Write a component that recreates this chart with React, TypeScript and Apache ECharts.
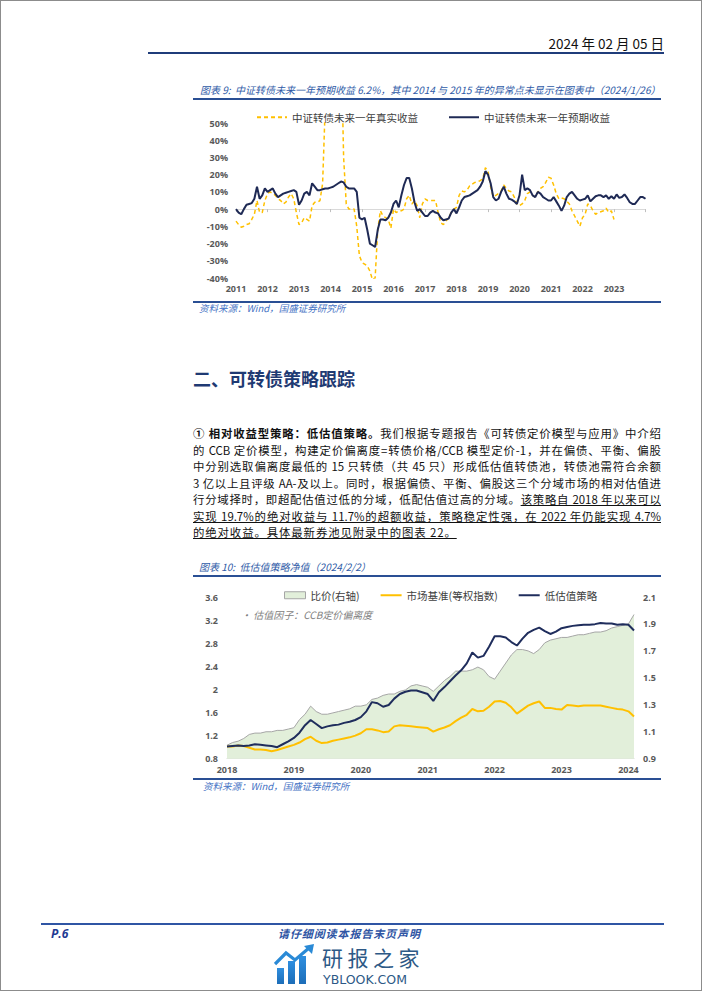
import React, { useEffect, useRef } from "react";
import * as echarts from "echarts";

const CJK = '"Noto Sans CJK SC", "Noto Sans", sans-serif';
const NUM = '"Open Sans", "Noto Sans", sans-serif';

// ---------- Chart 1: monthly, 2011-01 .. 2024-01 ----------
const months1: string[] = [];
for (let y = 2011; y <= 2023; y++) for (let m = 1; m <= 12; m++) months1.push(`${y}-${m < 10 ? "0" + m : m}`);
months1.push("2024-01");

const expectedReturn: number[] = [
  0, -2, -3, 0, 2.5, 3, 3.5, 6, 13, 6, 8, 12,
  10, 11, 12, 9, 7, 8, 9, 9.5, 10, 10.5, 11, 10,
  2.5, 5, 9, 10, 8, 15, 13, 11, 11, 11.5, 12, 12,
  12.5, 13, 14, 15, 16, 15.5, 13, 12, 12, 12, 10, -5,
  -6, -5, -12, -20, -21, -22, -12, -6, -6, -6.5, -5, -2,
  3, 5, 1, 8, 14, 18, 18, 12, 4, -1, 0, -2,
  -4, -4, -2, -1, -2, -2.5, -5, -6.5, -6, -5.5, -2, 0,
  -2.5, 1, 5, 7, 7.5, 8, 9, 10, 11, 13, 16, 22,
  20, 15, 7, 5, 6, 10, 13, 9, 6, 5.5, 4.5, 3,
  8, 20, 11, 12, 11, 8, 7, 10, 9, 7, 6, 5,
  5, 7, 4.5, 2, -1, 2, 7, 9, 10, 8, 6, 5,
  5.5, 6, 8, 4.5, 6, 7.5, 8, 8, 7, 8, 6, 7.5,
  6, 8.5, 6.5, 7, 8.5, 6.5, 4, 3, 3, 5, 7, 7,
  6,
];

const realizedReturn: (number | null)[] = [
  -7, -9, -10.5, -10, -9, -8.5, -6, -3, 5, -2, -2, 5,
  9, 10, 9, 8, 6, 5, 3, 4, 7, 9, 6, -2,
  -9, -8, -5, -6, -7, 2, 4, 4, 5, 15, 60, 85,
  95, 110, 120, 110, 100, 30, 3, 0, 0, 0, -10, -27,
  -31, -32, -33, -36, -41, -40, -12, -1, -4, -5, -6, -11,
  0, -2, -1, -1, 0, 6, 8, 3, 5, 2, -5, 3,
  6, 5, 5, 5, 5, -2, -8, -9, -7, -5, -2, 0,
  1, 8, 10.5, 10, 11, 13.5, 14.5, 15.5, 16, 16.5, 17.5, 24,
  22, 13, 7, 8, 9, 10.5, 14, 12, 10.5, 10, 7, 3,
  2, 3, 5, 9, 10, 8, 7, 10, 12, 13, 15.5, 18.5,
  18, 14, 9, 6, 6.5, 6, 4.5, 3, -1, -4, -7, -10,
  -5, -3, 3, 2, -1, -3, -2, -1.5, -1, 0.5, -2, -1,
  -6, null, null, null, null, null, null, null, null, null, null, null,
  null,
];

// ---------- Chart 2: monthly, 2018-01 .. 2024-02 ----------
const months2: string[] = [];
for (let y = 2018; y <= 2023; y++) for (let m = 1; m <= 12; m++) months2.push(`${y}-${m < 10 ? "0" + m : m}`);
months2.push("2024-01", "2024-02");

const strategyNav: number[] = [
  1.01, 1.02, 1.03, 1.02, 1.03, 1.05, 1.04, 1.03, 1.02, 1.0, 1.05, 1.1,
  1.16, 1.25, 1.38, 1.47, 1.4, 1.33, 1.36, 1.38, 1.39, 1.42, 1.44, 1.47,
  1.52, 1.62, 1.78, 1.76, 1.7, 1.73, 1.84, 1.92, 1.96, 1.98, 1.98, 1.95,
  1.92, 1.8, 1.95, 2.04, 2.14, 2.24, 2.33, 2.45, 2.64, 2.55, 2.58, 2.74,
  2.92, 2.92, 2.9, 2.82, 2.76, 2.88, 2.98, 3.03, 3.07, 3.01, 2.96, 3.0,
  3.06, 3.08, 3.1, 3.11, 3.12, 3.12, 3.13, 3.15, 3.14, 3.14, 3.12, 3.13,
  3.12, 3.02,
];

const benchmarkNav: number[] = [
  1.01, 1.01, 1.03, 1.02, 0.99, 0.96, 0.96, 0.95, 0.93, 0.95, 0.98, 1.01,
  1.04, 1.08, 1.14, 1.18, 1.11, 1.07, 1.08, 1.11, 1.13, 1.15, 1.17, 1.2,
  1.24, 1.31, 1.31, 1.29, 1.26, 1.27, 1.36, 1.38, 1.37, 1.36, 1.35, 1.34,
  1.33, 1.27, 1.31, 1.34, 1.38, 1.45, 1.51, 1.56, 1.66, 1.62, 1.63, 1.7,
  1.79, 1.8, 1.77, 1.69, 1.58, 1.65, 1.72, 1.76, 1.79, 1.68, 1.68, 1.66,
  1.65, 1.73, 1.72, 1.71, 1.72, 1.72, 1.72, 1.72, 1.7, 1.68, 1.66, 1.65,
  1.62, 1.53,
];

const priceRatio: number[] = [
  1.0, 1.02, 1.03, 1.05, 1.08, 1.09, 1.09, 1.1, 1.1, 1.11, 1.11, 1.12,
  1.13, 1.19, 1.23, 1.29, 1.25, 1.23, 1.23, 1.24, 1.25, 1.26, 1.27, 1.29,
  1.29, 1.3, 1.34, 1.35, 1.37, 1.38, 1.38, 1.4, 1.41, 1.44, 1.45, 1.44,
  1.43, 1.4, 1.44, 1.48, 1.51, 1.55, 1.55, 1.55, 1.56, 1.58, 1.56, 1.51,
  1.49, 1.55, 1.61, 1.67, 1.71, 1.71, 1.7, 1.68, 1.71, 1.76, 1.78, 1.79,
  1.8, 1.8, 1.81, 1.82, 1.82, 1.83, 1.84, 1.84, 1.85, 1.87, 1.88, 1.89,
  1.9, 1.97,
];

const axisLabelStyle = { fontFamily: NUM, fontSize: 9, fontWeight: "bold" as const, color: "#595959" };

function chart1Option(): any {
  return {
    animation: false,
    legend: {
      left: 60,
      top: 6,
      itemWidth: 30,
      itemHeight: 10,
      itemGap: 30,
      itemStyle: { opacity: 0 },
      textStyle: { fontFamily: CJK, fontSize: 10.5, color: "#404040" },
      data: ["中证转债未来一年真实收益", "中证转债未来一年预期收益"],
    },
    grid: { left: 45, top: 22, width: 409.5, height: 155 },
    xAxis: [
      {
        type: "category",
        data: months1,
        boundaryGap: false,
        axisLine: { onZero: true, lineStyle: { color: "#d9d9d9", width: 1 } },
        axisTick: { show: true, interval: 11, length: 3, lineStyle: { color: "#bfbfbf" } },
        axisLabel: { show: false },
      },
      {
        type: "category",
        data: months1,
        boundaryGap: false,
        position: "bottom",
        axisLine: { show: false, onZero: false },
        axisTick: { show: false },
        axisLabel: {
          ...axisLabelStyle,
          interval: (idx: number) => idx % 12 === 0 && idx < 156,
          margin: 6,
          formatter: (v: string) => v.slice(0, 4),
        },
      },
    ],
    yAxis: {
      type: "value",
      min: -40,
      max: 50,
      interval: 10,
      axisLine: { show: false },
      axisTick: { show: false },
      splitLine: { show: false },
      axisLabel: { ...axisLabelStyle, margin: 8, formatter: "{value}%" },
    },
    series: [
      {
        name: "中证转债未来一年真实收益",
        type: "line",
        data: realizedReturn,
        symbol: "none",
        clip: true,
        lineStyle: { color: "#FFC000", width: 1.5, type: [4, 3] },
        itemStyle: { color: "#FFC000" },
        z: 2,
      },
      {
        name: "中证转债未来一年预期收益",
        type: "line",
        data: expectedReturn,
        symbol: "none",
        lineStyle: { color: "#1F2A55", width: 2 },
        itemStyle: { color: "#1F2A55" },
        z: 3,
      },
    ],
  };
}

function chart2Option(): any {
  return {
    animation: false,
    legend: {
      left: 88,
      top: 7,
      itemWidth: 21,
      itemHeight: 7,
      itemGap: 20,
      itemStyle: { opacity: 0 },
      textStyle: { fontFamily: CJK, fontSize: 10.5, color: "#404040" },
      data: [
        { name: "比价(右轴)", icon: "rect", itemStyle: { color: "#E2EFDA", borderColor: "#A6A6A6", borderWidth: 1, opacity: 1 } },
        "市场基准(等权指数)",
        "低估值策略",
      ],
    },
    grid: { left: 36, top: 19, width: 407, height: 161.7 },
    xAxis: {
      type: "category",
      data: months2,
      boundaryGap: false,
      axisLine: { lineStyle: { color: "#d9d9d9" } },
      axisTick: { show: false },
      axisLabel: { ...axisLabelStyle, interval: 11, margin: 6, formatter: (v: string) => v.slice(0, 4) },
    },
    yAxis: [
      {
        type: "value",
        min: 0.8,
        max: 3.6,
        interval: 0.4,
        axisLine: { show: false },
        axisTick: { show: false },
        splitLine: { show: false },
        axisLabel: { ...axisLabelStyle, margin: 9, formatter: (v: number) => String(Number(v.toFixed(1))) },
      },
      {
        type: "value",
        min: 0.9,
        max: 2.1,
        interval: 0.2,
        position: "right",
        axisLine: { show: false },
        axisTick: { show: false },
        splitLine: { show: false },
        axisLabel: { ...axisLabelStyle, margin: 9, formatter: (v: number) => v.toFixed(1) },
      },
    ],
    graphic: [
      {
        type: "text",
        left: 50,
        top: 31,
        style: { text: "• 估值因子：CCB定价偏离度", fontFamily: CJK, fontSize: 10, fontStyle: "italic", fill: "#7f7f7f" },
      },
    ],
    series: [
      {
        name: "比价(右轴)",
        type: "line",
        yAxisIndex: 1,
        data: priceRatio,
        symbol: "none",
        lineStyle: { color: "#A6A6A6", width: 1 },
        itemStyle: { color: "#E2EFDA", borderColor: "#A6A6A6" },
        areaStyle: { color: "#E2EFDA", opacity: 1, origin: "start" },
        z: 1,
      },
      {
        name: "市场基准(等权指数)",
        type: "line",
        yAxisIndex: 0,
        data: benchmarkNav,
        symbol: "none",
        lineStyle: { color: "#FFC000", width: 2 },
        itemStyle: { color: "#FFC000" },
        z: 2,
      },
      {
        name: "低估值策略",
        type: "line",
        yAxisIndex: 0,
        data: strategyNav,
        symbol: "none",
        lineStyle: { color: "#1F2D5C", width: 2 },
        itemStyle: { color: "#1F2D5C" },
        z: 3,
      },
    ],
  };
}

function EChart({ option, style }: { option: any; style: React.CSSProperties }) {
  const ref = useRef<HTMLDivElement>(null);
  useEffect(() => {
    if (!ref.current) return;
    const chart = echarts.init(ref.current, undefined, { renderer: "svg" });
    chart.setOption(option);
    return () => chart.dispose();
  }, [option]);
  return <div ref={ref} style={style} />;
}

const abs = (left: number, top: number, extra: React.CSSProperties = {}): React.CSSProperties => ({
  position: "absolute",
  left,
  top,
  ...extra,
});

const paraLines: React.ReactNode[] = [
  <>
    <b>① 相对收益型策略：低估值策略。</b>我们根据专题报告《可转债定价模型与应用》中介绍
  </>,
  <>的 CCB 定价模型，构建定价偏离度=转债价格/CCB 模型定价-1，并在偏债、平衡、偏股</>,
  <>中分别选取偏离度最低的 15 只转债（共 45 只）形成低估值转债池，转债池需符合余额</>,
  <>3 亿以上且评级 AA-及以上。同时，根据偏债、平衡、偏股这三个分域市场的相对估值进</>,
  <>
    行分域择时，即超配估值过低的分域，低配估值过高的分域。
    <span style={{ textDecoration: "underline" }}>该策略自 2018 年以来可以</span>
  </>,
  <span style={{ textDecoration: "underline" }}>实现 19.7%的绝对收益与 11.7%的超额收益，策略稳定性强，在 2022 年仍能实现 4.7%</span>,
  <span style={{ textDecoration: "underline" }}>的绝对收益。具体最新券池见附录中的图表 22。</span>,
];

export default function App() {
  const opt1 = React.useMemo(() => chart1Option(), []);
  const opt2 = React.useMemo(() => chart2Option(), []);
  const blueTitle: React.CSSProperties = { fontFamily: CJK, fontSize: 10, lineHeight: "14px", fontStyle: "italic", color: "#2F5BA7", whiteSpace: "nowrap" };
  const source: React.CSSProperties = { fontFamily: CJK, fontSize: 9.5, lineHeight: "13px", fontStyle: "italic", color: "#4472C4", whiteSpace: "nowrap" };
  return (
    <div
      style={{
        position: "absolute",
        left: 0,
        top: 0,
        width: 702,
        height: 991,
        boxSizing: "border-box",
        border: "1px solid #8c8c8c",
        background: "#fff",
        overflow: "hidden",
        fontFamily: CJK,
      }}
    >
      {/* header */}
      <div style={abs(0, 33, { width: 663, textAlign: "right", fontSize: 13.5, lineHeight: "18px", color: "#111", whiteSpace: "nowrap" })}>
        2024 年 02 月 05 日
      </div>
      <div style={abs(147, 51, { width: 516, height: 2, background: "#1F3C7A" })} />

      {/* chart 9 */}
      <div style={abs(199, 82, blueTitle)}>图表 9:&nbsp;&nbsp;中证转债未来一年预期收益 6.2%，其中 2014 与 2015 年的异常点未显示在图表中（2024/1/26）</div>
      <div style={abs(192, 97, { width: 468, height: 2, background: "#2A4F94" })} />
      <EChart option={opt1} style={abs(190, 100, { width: 470, height: 200 })} />
      <div style={abs(192, 300, { width: 468, height: 1.5, background: "#2A4F94" })} />
      <div style={abs(198, 301, source)}>资料来源：Wind，国盛证券研究所</div>

      {/* section heading */}
      <div style={abs(192, 365, { fontSize: 18, lineHeight: "24px", fontWeight: "bold", color: "#1F3A73", whiteSpace: "nowrap" })}>二、可转债策略跟踪</div>

      {/* paragraph */}
      {paraLines.map((ln, i) => (
        <div
          key={i}
          style={abs(192, 424 + i * 16.55, {
            width: 468,
            height: 16,
            fontSize: 11.4,
            lineHeight: "16px",
            color: "#111",
            whiteSpace: "nowrap",
            textAlign: i < 6 ? "justify" : "left",
            textAlignLast: i < 6 ? "justify" : "left",
            letterSpacing: i < 6 ? 0 : 0.9,
          })}
        >
          {ln}
        </div>
      ))}

      {/* chart 10 */}
      <div style={abs(198, 559, blueTitle)}>图表 10:&nbsp;&nbsp;低估值策略净值（2024/2/2）</div>
      <div style={abs(192, 574, { width: 468, height: 2, background: "#2A4F94" })} />
      <EChart option={opt2} style={abs(190, 577, { width: 470, height: 200 })} />
      <div style={abs(192, 777, { width: 468, height: 1.5, background: "#2A4F94" })} />
      <div style={abs(202, 779, source)}>资料来源：Wind，国盛证券研究所</div>

      {/* footer */}
      <div style={abs(40, 922, { width: 623, height: 2, background: "#2F55A4" })} />
      <div style={abs(50, 926, { fontFamily: NUM, fontSize: 12, lineHeight: "14px", fontWeight: "bold", fontStyle: "italic", color: "#1F3A93" })}>P.6</div>
      <div style={abs(277, 924.5, { fontSize: 11, lineHeight: "15px", fontWeight: "bold", fontStyle: "italic", color: "#2F55A4", whiteSpace: "nowrap", letterSpacing: 0.9 })}>
        请仔细阅读本报告末页声明
      </div>

      {/* watermark logo */}
      <svg style={abs(273, 943)} width="42" height="40" viewBox="0 0 42 40">
        <defs>
          <linearGradient id="lg" x1="0" y1="0" x2="0" y2="1">
            <stop offset="0" stopColor="#2F8FE0" />
            <stop offset="1" stopColor="#1C6DB8" />
          </linearGradient>
        </defs>
        <rect x="3" y="24" width="7" height="16" fill="url(#lg)" />
        <rect x="14" y="17" width="7" height="23" fill="url(#lg)" />
        <rect x="25" y="12" width="7" height="28" fill="url(#lg)" />
        <polyline points="1,20 12,9 21,16 35,4" fill="none" stroke="#2A8AD6" strokeWidth="3.2" />
        <polygon points="30,2 40,0 38,10" fill="#2A8AD6" />
      </svg>
      <div style={abs(321, 940.5, { fontSize: 21, color: "#2D5986", whiteSpace: "nowrap", lineHeight: "30px", letterSpacing: 4.5 })}>研报之家</div>
      <div style={abs(322, 971.5, { width: 103, fontFamily: '"DejaVu Sans", sans-serif', fontSize: 12.5, color: "#2D5986", textAlign: "justify", textAlignLast: "justify", whiteSpace: "nowrap", lineHeight: "14px" })}>
        YBLOOK.COM
      </div>
    </div>
  );
}
